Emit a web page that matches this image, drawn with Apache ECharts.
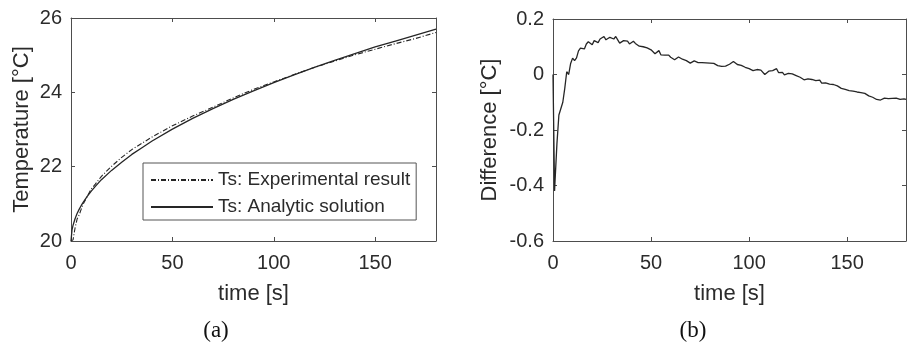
<!DOCTYPE html>
<html>
<head>
<meta charset="utf-8">
<script src="https://cdn.jsdelivr.net/npm/echarts@6/dist/echarts.min.js"></script>
<style>
  html, body { margin: 0; padding: 0; background: #fff; }
  #chart { width: 909px; height: 343px; }
</style>
</head>
<body>
<div id="chart"></div>
<script>
// (a) Surface temperature: experiment vs. analytic solution
const tempTime = [0, 0.5, 1, 2, 3, 4, 5, 6, 8, 10, 12, 15, 20, 25, 30, 35, 40, 50, 60, 70, 80, 90, 100, 110, 120, 130, 140, 150, 160, 170, 180];
const tsAnalytic = [20.00, 20.30, 20.42, 20.60, 20.74, 20.85, 20.95, 21.04, 21.20, 21.34, 21.47, 21.65, 21.90, 22.12, 22.33, 22.51, 22.69, 23.01, 23.30, 23.56, 23.81, 24.04, 24.26, 24.47, 24.67, 24.86, 25.04, 25.22, 25.38, 25.54, 25.70];
const tsExperimental = [20.00, 20.00, 20.03, 20.35, 20.59, 20.70, 20.85, 20.99, 21.20, 21.40, 21.53, 21.74, 22.01, 22.25, 22.46, 22.63, 22.80, 23.10, 23.36, 23.60, 23.85, 24.08, 24.28, 24.48, 24.67, 24.84, 25.01, 25.16, 25.31, 25.45, 25.61];

// (b) Difference (experimental - analytic)
const diffTime = [0, 0.8,
  1, 2, 3, 4, 5, 6, 7, 8, 9, 10, 11, 12, 13, 14, 15, 16, 17, 18, 19, 20,
  21, 22, 23, 24, 25, 26, 27, 28, 29, 30, 31, 32, 33, 34, 35, 36, 37, 38, 39, 40,
  41, 42, 43, 44, 45, 46, 47, 48, 49, 50, 51, 52, 53, 54, 55, 56, 57, 58, 59, 60,
  61, 62, 63, 64, 65, 66, 67, 68, 69, 70, 71, 72, 73, 74, 75, 76, 77, 78, 79, 80,
  81, 82, 83, 84, 85, 86, 87, 88, 89, 90, 91, 92, 93, 94, 95, 96, 97, 98, 99, 100,
  101, 102, 103, 104, 105, 106, 107, 108, 109, 110, 111, 112, 113, 114, 115, 116, 117, 118, 119, 120,
  121, 122, 123, 124, 125, 126, 127, 128, 129, 130, 131, 132, 133, 134, 135, 136, 137, 138, 139, 140,
  141, 142, 143, 144, 145, 146, 147, 148, 149, 150, 151, 152, 153, 154, 155, 156, 157, 158, 159, 160,
  161, 162, 163, 164, 165, 166, 167, 168, 169, 170, 171, 172, 173, 174, 175, 176, 177, 178, 179, 180];
const diffValues = [0.0, -0.42,
  -0.39, -0.25, -0.146, -0.146, -0.10, -0.05, 0.01, 0.0, 0.04, 0.059, 0.05, 0.06, 0.085, 0.095, 0.088, 0.092, 0.11, 0.118, 0.125, 0.107,
  0.122, 0.12, 0.115, 0.128, 0.133, 0.137, 0.125, 0.13, 0.134, 0.132, 0.128, 0.137, 0.125, 0.113, 0.12, 0.122, 0.118, 0.12, 0.11, 0.114,
  0.12, 0.112, 0.108, 0.102, 0.108, 0.1, 0.098, 0.096, 0.093, 0.089, 0.089, 0.075, 0.071, 0.086, 0.071, 0.065, 0.07, 0.075, 0.07, 0.062,
  0.058, 0.053, 0.06, 0.063, 0.058, 0.055, 0.052, 0.05, 0.045, 0.041, 0.045, 0.049, 0.046, 0.043, 0.041, 0.043, 0.046, 0.042, 0.04, 0.041,
  0.044, 0.04, 0.036, 0.032, 0.03, 0.029, 0.027, 0.03, 0.035, 0.037, 0.043, 0.047, 0.043, 0.036, 0.031, 0.033, 0.03, 0.026, 0.024, 0.021,
  0.02, 0.014, 0.016, 0.018, 0.014, 0.016, 0.012, 0.0, 0.004, 0.012, 0.017, 0.014, 0.02, 0.021, 0.007, 0.004, 0.008, -0.001, 0.0, 0.004,
  0.008, 0.002, -0.005, -0.004, -0.006, -0.01, -0.012, -0.019, -0.017, -0.016, -0.021, -0.018, -0.015, -0.022, -0.026, -0.02, -0.031, -0.031, -0.03, -0.033,
  -0.035, -0.036, -0.036, -0.038, -0.041, -0.045, -0.05, -0.052, -0.054, -0.058, -0.058, -0.062, -0.06, -0.064, -0.063, -0.067, -0.065, -0.062, -0.068, -0.072,
  -0.077, -0.078, -0.082, -0.085, -0.09, -0.094, -0.092, -0.088, -0.085, -0.088, -0.087, -0.09, -0.086, -0.088, -0.085, -0.088, -0.09, -0.086, -0.088, -0.09];

const xTicks = [0, 50, 100, 150];
const tempTicks = [20, 22, 24, 26];
const diffTicks = [-0.6, -0.4, -0.2, 0, 0.2];

const FONT = '"Liberation Sans", Arial, Helvetica, sans-serif';
const SERIF = '"Liberation Serif", "Times New Roman", serif';
const AXIS = '#4d4d4d';
const TEXT = '#2b2b2b';
const LINE = '#262626';
const DASH_DOT = [5, 2, 1, 2];

const pairs = (xs, ys) => xs.map((x, i) => [x, ys[i]]);
const near = (v, list) => list.some(t => Math.abs(t - v) < 1e-6);

function xAxes(grid, name) {
  const common = {
    type: 'value', gridIndex: grid, min: 0, max: 180, interval: 50,
    splitLine: { show: false },
    axisLine: { show: true, onZero: false, lineStyle: { color: AXIS, width: 1 } },
    axisTick: { show: true, inside: true, length: 4, lineStyle: { color: AXIS } }
  };
  return [
    Object.assign({}, common, {
      position: 'bottom',
      name: name, nameLocation: 'middle', nameGap: 42,
      nameTextStyle: { fontFamily: FONT, fontSize: 22, color: TEXT },
      axisLabel: {
        fontFamily: FONT, fontSize: 20, color: TEXT, margin: 12,
        formatter: v => near(v, xTicks) ? String(v) : ''
      }
    }),
    Object.assign({}, common, { position: 'top', axisLabel: { show: false } })
  ];
}

function yAxes(grid, min, max, step, ticks, name, gap) {
  const common = {
    type: 'value', gridIndex: grid, min: min, max: max, interval: step,
    splitLine: { show: false },
    axisLine: { show: true, onZero: false, lineStyle: { color: AXIS, width: 1 } },
    axisTick: { show: true, inside: true, length: 4, lineStyle: { color: AXIS } }
  };
  return [
    Object.assign({}, common, {
      position: 'left',
      name: name, nameLocation: 'middle', nameGap: gap,
      nameTextStyle: { fontFamily: FONT, fontSize: 22, color: TEXT },
      axisLabel: {
        fontFamily: FONT, fontSize: 20, color: TEXT, margin: 9,
        formatter: v => {
          if (!near(v, ticks)) return '';
          if (Math.abs(v) < 1e-9) return '0';
          return String(+v.toFixed(1));
        }
      }
    }),
    Object.assign({}, common, { position: 'right', axisLabel: { show: false } })
  ];
}

const chart = echarts.init(document.getElementById('chart'), null, { renderer: 'canvas' });

chart.setOption({
  animation: false,
  backgroundColor: '#ffffff',
  grid: [
    { left: 71, top: 18, width: 365, height: 223, containLabel: false },
    { left: 553, top: 19, width: 364, height: 222, containLabel: false }
  ],
  xAxis: [].concat(xAxes(0, 'time [s]'), xAxes(1, 'time [s]')),
  yAxis: [].concat(
    yAxes(0, 20, 26, 2, tempTicks, 'Temperature [°C]', 38),
    yAxes(1, -0.6, 0.2, 0.2, diffTicks, 'Difference [°C]', 52)
  ),
  legend: {
    show: true,
    orient: 'vertical',
    left: 143, top: 163,
    padding: [7, 6, 3, 7],
    itemWidth: 62, itemHeight: 20, itemGap: 7,
    borderColor: '#555', borderWidth: 1,
    backgroundColor: '#ffffff',
    // line-only keys: hide the marker drawn in the middle of each sample line
    itemStyle: { opacity: 0 },
    textStyle: { fontFamily: FONT, fontSize: 19, color: TEXT, lineHeight: 20 },
    data: ['Ts: Experimental result', 'Ts: Analytic solution']
  },
  series: [
    {
      name: 'Ts: Analytic solution', type: 'line',
      xAxisIndex: 0, yAxisIndex: 0,
      data: pairs(tempTime, tsAnalytic),
      symbol: 'none', showSymbol: false, smooth: false,
      lineStyle: { color: LINE, width: 1.3, type: 'solid' },
      itemStyle: { color: LINE }, z: 3
    },
    {
      name: 'Ts: Experimental result', type: 'line',
      xAxisIndex: 0, yAxisIndex: 0,
      data: pairs(tempTime, tsExperimental),
      symbol: 'none', showSymbol: false, smooth: false,
      lineStyle: { color: LINE, width: 1.1, type: DASH_DOT },
      itemStyle: { color: LINE }, z: 4
    },
    {
      name: 'Difference', type: 'line',
      xAxisIndex: 2, yAxisIndex: 2,
      data: pairs(diffTime, diffValues),
      symbol: 'none', showSymbol: false, smooth: false,
      lineStyle: { color: LINE, width: 1.3 },
      itemStyle: { color: LINE }
    }
  ],
  graphic: [
    { type: 'text', x: 216, y: 331,
      style: { text: '(a)', font: '23px ' + SERIF, fill: '#111', textAlign: 'center', textVerticalAlign: 'middle' } },
    { type: 'text', x: 693, y: 331,
      style: { text: '(b)', font: '23px ' + SERIF, fill: '#111', textAlign: 'center', textVerticalAlign: 'middle' } }
  ]
});
</script>
</body>
</html>
